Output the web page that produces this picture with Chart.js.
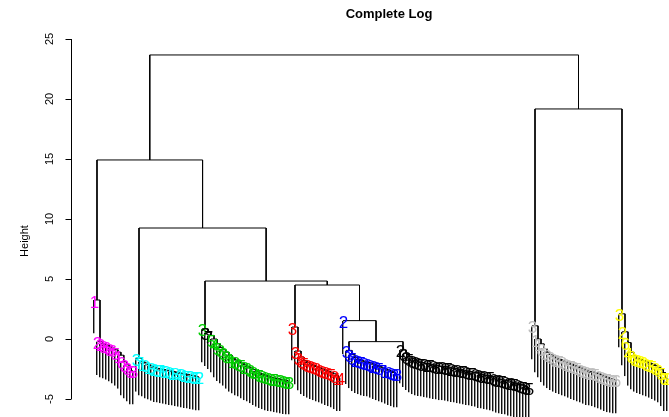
<!DOCTYPE html>
<html>
<head>
<meta charset="utf-8">
<script src="https://cdn.jsdelivr.net/npm/chart.js@4/dist/chart.umd.min.js"></script>
<style>
  html, body { margin: 0; padding: 0; background: #fff; overflow: hidden; }
  canvas { display: block; }
</style>
</head>
<body>
<canvas id="dendro" width="669" height="417"></canvas>
<script>
// Merge heights along each cluster chain: leaf i joins the rest of its chain at height[i].
const magentaHeights = [-0.2, -0.4, -0.5, -0.6, -0.75, -0.9, -1.1, -1.35, -1.9, -2.15, -2.4, -2.65];
const cyanHeights    = [-1.6, -1.9, -2.0, -2.15, -2.25, -2.35, -2.45, -2.5, -2.55, -2.6, -2.65,
                        -2.7, -2.75, -2.8, -2.85, -2.9, -2.95, -3.0, -3.05, -3.1, -3.15];
const greenHeights   = [0.85, 0.55, 0.3, 0.0, -0.4, -0.7, -0.9, -1.1, -1.35, -1.6, -1.75, -1.9, -2.0,
                        -2.15, -2.3, -2.4, -2.55, -2.7, -2.85, -2.95, -3.05, -3.15, -3.2, -3.25,
                        -3.3, -3.35, -3.4, -3.45, -3.5];
const redHeights     = [-1.0, -1.5, -1.8, -1.95, -2.1, -2.2, -2.3, -2.4, -2.5, -2.6, -2.7, -2.8,
                        -2.9, -3.05, -3.2];
const blueHeights    = [-0.95, -1.3, -1.55, -1.7, -1.8, -1.9, -1.95, -2.0, -2.1, -2.2, -2.3, -2.4,
                        -2.5, -2.6, -2.7, -2.8, -2.9];
const blackHeights   = [-0.9, -1.2, -1.45, -1.65, -1.8, -1.9, -1.95, -2.0, -2.05, -2.1, -2.15, -2.2,
                        -2.25, -2.3, -2.3, -2.35, -2.4, -2.45, -2.5, -2.55, -2.6, -2.65, -2.7,
                        -2.75, -2.8, -2.85, -2.95, -3.0, -3.05, -3.1, -3.15, -3.25, -3.35, -3.4,
                        -3.45, -3.5, -3.6, -3.65, -3.7, -3.8, -3.85, -3.95, -4.05];
const grayHeights    = [1.1, 0.0, -0.4, -0.8, -1.1, -1.3, -1.45, -1.6, -1.7, -1.8, -1.9, -2.0, -2.1,
                        -2.2, -2.3, -2.4, -2.5, -2.6, -2.7, -2.75, -2.8, -2.9, -3.0, -3.1, -3.2,
                        -3.3, -3.35, -3.4];
const yellowHeights  = [2.1, 0.6, -0.3, -1.1, -1.4, -1.6, -1.7, -1.8, -1.9, -2.0, -2.1, -2.2,
                        -2.35, -2.5, -2.8, -3.2];

// Leaf labels (class digits), left to right within each cluster.
const single1Digits = '1';
const magentaDigits = '2286865163353';
const cyanDigits    = '3710182575001843152052';
const greenDigits   = '337545838418052638458063568383';
const single3Digits = '3';
const redDigits     = '3385830860865814';
const single2Digits = '2';
const blueDigits    = '335285360285716038';
const blackDigits   = '20858305625880385208658550380856305802560585';
const grayDigits    = '31185066258305853880256805386';
const yellowDigits  = '32648088605586582';
const greenDarkLabels = [1, 2];   // leaves in the green cluster labelled in black

// Joins between clusters (n<k> refers to the k-th join below).
const mergeLeft   = ['single1', 'single3', 'blue',  'single2', 'n1', 'green', 'cyan', 'n0',  'gray',   'n7'];
const mergeRight  = ['magenta', 'red',     'black', 'n2',      'n3', 'n4',    'n5',   'n6',  'yellow', 'n8'];
const mergeHeight = [3.25,      1.0,       -0.22,   1.53,      4.5,  4.83,    9.25,   14.92, 19.17,    23.67];

const yTickValues = [-5, 0, 5, 10, 15, 20, 25];

// ---- build the dendrogram geometry from the arrays above ----
const groups = {
  single1: { heights: [], digits: single1Digits, color: '#FF00FF' },
  magenta: { heights: magentaHeights, digits: magentaDigits, color: '#FF00FF' },
  cyan:    { heights: cyanHeights, digits: cyanDigits, color: '#00FFFF' },
  green:   { heights: greenHeights, digits: greenDigits, color: '#00CD00', dark: greenDarkLabels },
  single3: { heights: [], digits: single3Digits, color: '#FF0000' },
  red:     { heights: redHeights, digits: redDigits, color: '#FF0000' },
  single2: { heights: [], digits: single2Digits, color: '#0000FF' },
  blue:    { heights: blueHeights, digits: blueDigits, color: '#0000FF' },
  black:   { heights: blackHeights, digits: blackDigits, color: '#000000' },
  gray:    { heights: grayHeights, digits: grayDigits, color: '#BEBEBE' },
  yellow:  { heights: yellowHeights, digits: yellowDigits, color: '#FFFF00' }
};

const leaves = [];
const segments = [];
const leafHang = 2.8;

function layoutChain(g) {
  const n = g.digits.length;
  const start = leaves.length;
  for (let i = 0; i < n; i++) {
    const dark = g.dark && g.dark.includes(i);
    leaves.push({ x: start + i, digit: g.digits[i], color: dark ? '#000000' : g.color, top: null });
  }
  if (n === 1) return { x: start, leaf: leaves[start] };
  let child = { x: start + n - 1, leaf: leaves[start + n - 1] };
  leaves[start + n - 1].top = g.heights[n - 2];
  for (let k = n - 2; k >= 0; k--) {
    const h = g.heights[k];
    leaves[start + k].top = h;
    segments.push([start + k, h, child.x, h]);
    if (!child.leaf) segments.push([child.x, h, child.x, child.h]);
    child = { x: (start + k + child.x) / 2, h: h };
  }
  return child;
}

function layout(name) {
  if (groups[name]) return layoutChain(groups[name]);
  const k = +name.slice(1);
  const L = layout(mergeLeft[k]);
  const R = layout(mergeRight[k]);
  const H = mergeHeight[k];
  segments.push([L.x, H, R.x, H]);
  [L, R].forEach(c => {
    if (c.leaf) c.leaf.top = H;
    else segments.push([c.x, H, c.x, c.h]);
  });
  return { x: (L.x + R.x) / 2, h: H };
}
layout('n' + (mergeHeight.length - 1));

const treePoints = [];
segments.forEach(s => {
  treePoints.push({ x: s[0], y: s[1] }, { x: s[2], y: s[3] }, { x: s[2], y: null });
});
const leafBars = leaves.map(l => ({ x: l.x, y: [l.top - leafHang, l.top] }));

// ---- text, axis and leaf labels ----
const FONT = '"Liberation Sans", Arial, Helvetica, sans-serif';
const decorations = {
  id: 'decorations',
  afterDatasetsDraw(chart) {
    const ctx = chart.ctx;
    const xs = chart.scales.x, ys = chart.scales.y;
    ctx.save();
    ctx.font = '17px ' + FONT;
    ctx.textAlign = 'center';
    ctx.textBaseline = 'middle';
    leaves.forEach(l => {
      ctx.fillStyle = l.color;
      ctx.fillText(l.digit, xs.getPixelForValue(l.x) + 0.5, ys.getPixelForValue(l.top) + 3);
    });
    ctx.restore();
  },
  afterDraw(chart) {
    const ctx = chart.ctx;
    const ys = chart.scales.y;
    const ax = Math.round(chart.chartArea.left) + 0.5;
    ctx.save();
    ctx.strokeStyle = '#000';
    ctx.lineWidth = 1;
    ctx.beginPath();
    ctx.moveTo(ax, ys.getPixelForValue(yTickValues[0]));
    ctx.lineTo(ax, ys.getPixelForValue(yTickValues[yTickValues.length - 1]));
    yTickValues.forEach(v => {
      const py = Math.round(ys.getPixelForValue(v)) + 0.5;
      ctx.moveTo(ax, py);
      ctx.lineTo(ax - 6, py);
    });
    ctx.stroke();
    ctx.fillStyle = '#000';
    ctx.font = '11px ' + FONT;
    ctx.textAlign = 'center';
    ctx.textBaseline = 'middle';
    yTickValues.forEach(v => {
      ctx.save();
      ctx.translate(50, ys.getPixelForValue(v));
      ctx.rotate(-Math.PI / 2);
      ctx.fillText(String(v), 0, 0);
      ctx.restore();
    });
    ctx.save();
    ctx.translate(25, 241);
    ctx.rotate(-Math.PI / 2);
    ctx.fillText('Height', 0, 0);
    ctx.restore();
    ctx.font = 'bold 13px ' + FONT;
    ctx.fillText('Complete Log', 389, 14);
    ctx.restore();
  }
};

new Chart(document.getElementById('dendro'), {
  type: 'scatter',
  data: {
    datasets: [
      {
        type: 'bar',
        data: leafBars,
        backgroundColor: '#999999',
        borderColor: '#111111',
        borderWidth: { left: 1, right: 0, top: 0, bottom: 0 },
        borderSkipped: false,
        inflateAmount: 0,
        barThickness: 2,
        order: 2
      },
      {
        type: 'scatter',
        data: treePoints,
        showLine: true,
        spanGaps: false,
        borderColor: '#000000',
        borderWidth: 1,
        pointRadius: 0,
        order: 1
      }
    ]
  },
  options: {
    responsive: false,
    animation: false,
    events: [],
    layout: { padding: { left: 71, right: 0, top: 0, bottom: 0 } },
    plugins: { legend: { display: false }, tooltip: { enabled: false }, title: { display: false } },
    scales: {
      x: { type: 'linear', display: false, offset: false, grid: { offset: false }, min: -23 / 3, max: 575 / 3 },
      y: { type: 'linear', display: false, min: -6.5, max: 28.25 }
    }
  },
  plugins: [decorations]
});
</script>
</body>
</html>
